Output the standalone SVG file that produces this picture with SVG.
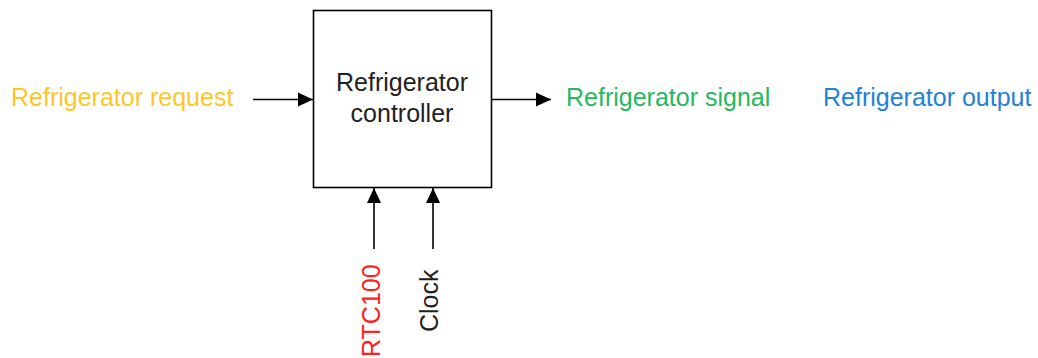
<svg xmlns="http://www.w3.org/2000/svg" width="1038" height="358" viewBox="0 0 1038 358">
<style>
text{font-family:"Liberation Sans",Arial,sans-serif;font-size:25px}
.ln{stroke:#000;stroke-width:1.6;fill:none}
</style>
<defs>
<marker id="ah" viewBox="0 0 15 15" refX="15" refY="7.5" markerWidth="15" markerHeight="15" markerUnits="userSpaceOnUse" orient="auto">
<path d="M0,0.5 L15,7.5 L0,14.5 Z" fill="#000"/>
</marker>
</defs>
<rect width="1038" height="358" fill="#fff"/>
<g id="controller">
<rect x="313.5" y="10.5" width="178" height="177" fill="#fff" stroke="#000" stroke-width="1.6"/>
<text x="402" y="91" text-anchor="middle" fill="#222">Refrigerator</text>
<text x="402" y="122" text-anchor="middle" fill="#222">controller</text>
</g>
<g id="request"><text x="11" y="106" fill="#FFC629">Refrigerator request</text></g>
<g id="signal"><text x="566" y="106" fill="#27B85E">Refrigerator signal</text></g>
<g id="output"><text x="823" y="106" fill="#2481D6">Refrigerator output</text></g>
<g id="rtc100"><text transform="translate(380,357) rotate(-90)" fill="#FF2020">RTC100</text></g>
<g id="clock"><text transform="translate(438,332) rotate(-90)" fill="#222">Clock</text></g>
<g id="connectors">
<line class="ln" x1="253" y1="99.5" x2="313" y2="99.5" marker-end="url(#ah)"/>
<line class="ln" x1="491" y1="99.5" x2="551" y2="99.5" marker-end="url(#ah)"/>
<line class="ln" x1="374" y1="249" x2="374" y2="188" marker-end="url(#ah)"/>
<line class="ln" x1="433" y1="249" x2="433" y2="188" marker-end="url(#ah)"/>
</g>
</svg>
